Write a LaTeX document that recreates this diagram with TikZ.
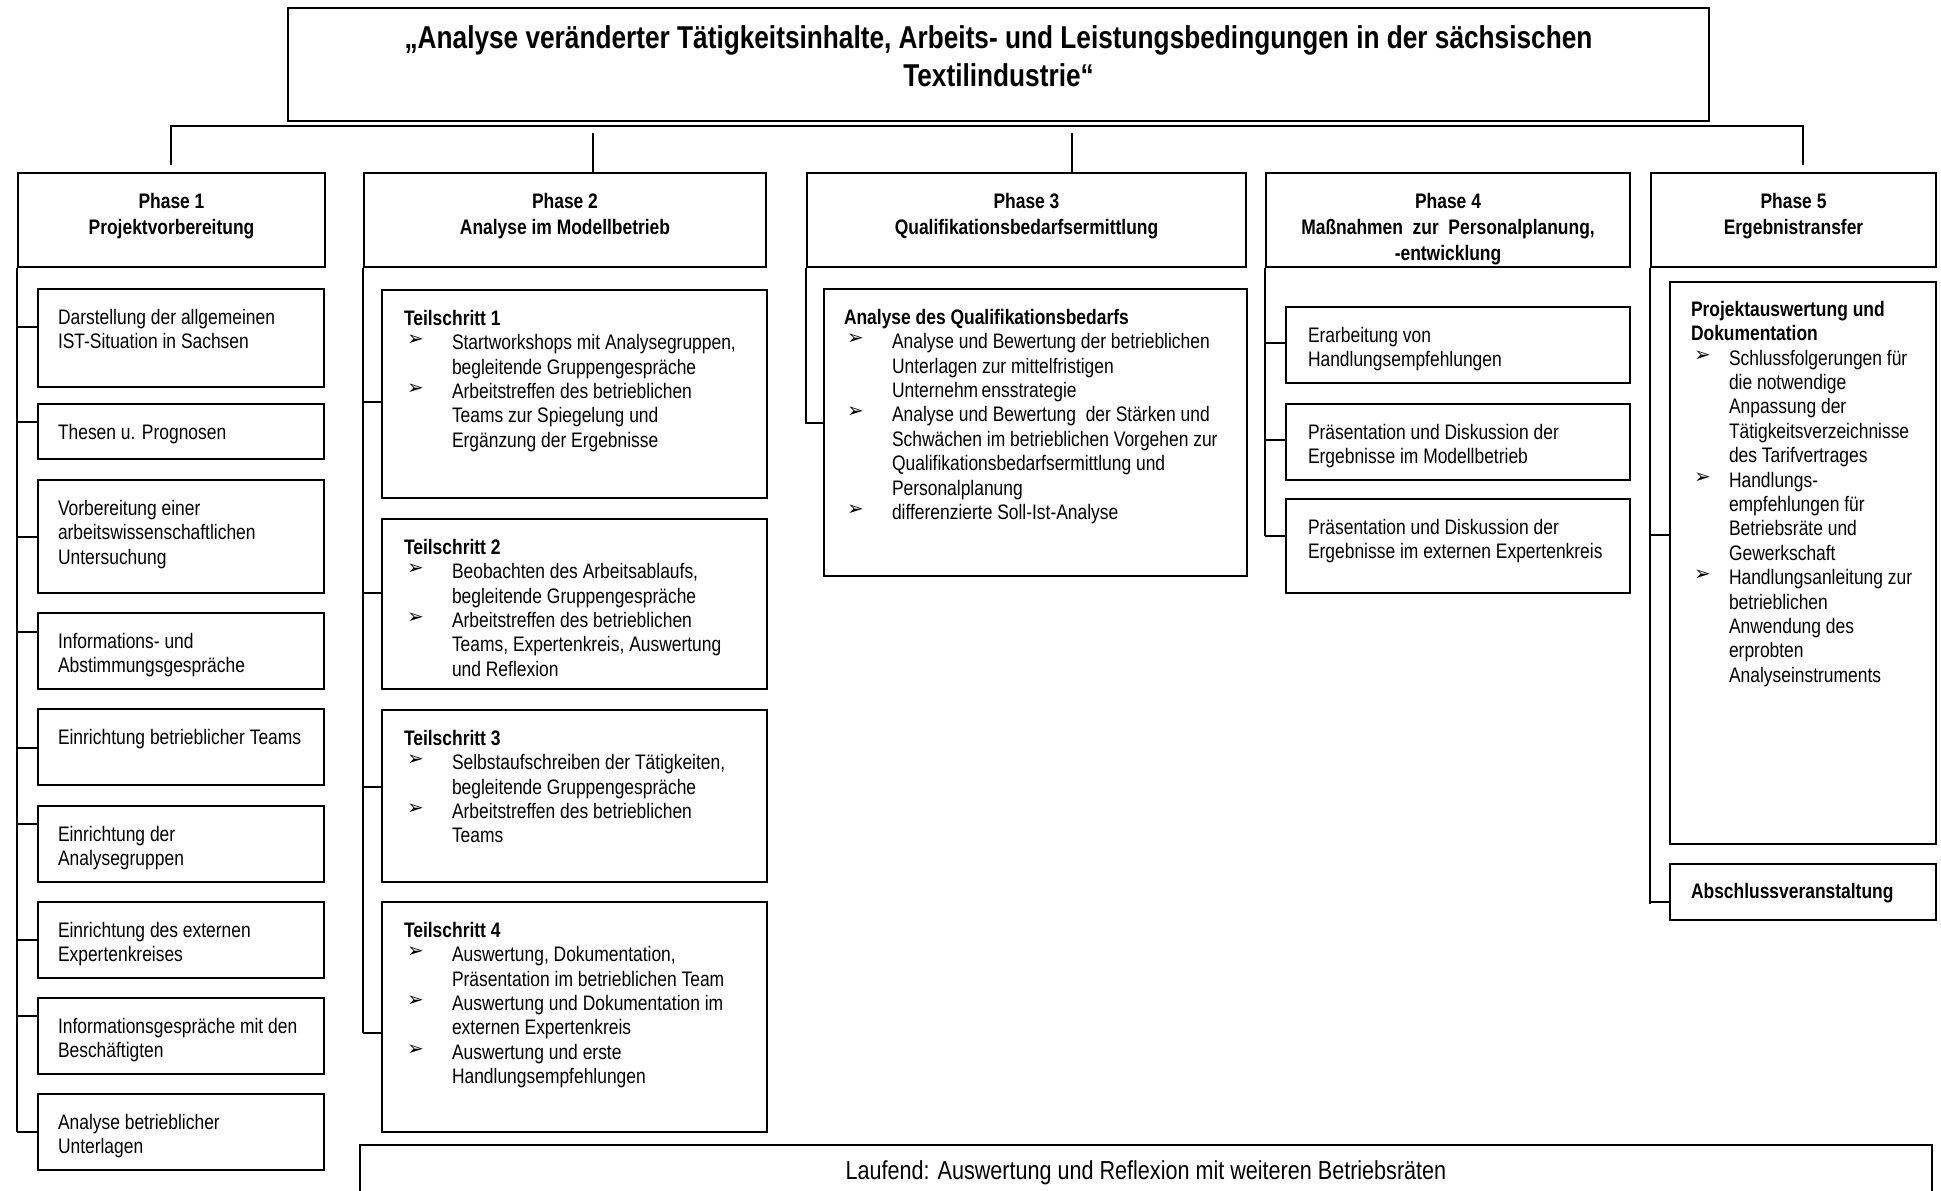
\documentclass[tikz,border=0pt]{standalone}
\usepackage{fontspec}
\setmainfont{Liberation Sans}[FakeStretch=0.83]
\newfontfamily\dingfont{DejaVu Sans}
\usetikzlibrary{positioning}

\tikzset{every picture/.style={line width=1pt}}

% bullet and hanging indent for the item lists
\newcommand\bul[1][24pt]{\makebox[#1][l]{\hspace{1.5pt}\raisebox{2pt}{\dingfont\fontsize{10}{10}\selectfont ➢}}}
\newcommand\ind[1][24pt]{\hspace*{#1}}

\begin{document}
\begin{tikzpicture}[x=0.5pt,y=-0.5pt,
    box/.style={draw, inner sep=0pt, anchor=north west},
    phase/.style={font=\bfseries\fontsize{10.5}{13}\selectfont, align=center, inner sep=0pt},
    body/.style={font=\fontsize{10.5}{12.2}\selectfont, align=left, inner sep=0pt}]
    \useasboundingbox (0,0) rectangle (1941,1190);
    \clip (0,0) rectangle (1941,1190);

    %Shape: Rectangle [title]
    \node[box, minimum width=710.5pt, minimum height=56.5pt] (title) at (287,7) {};
    % Text Node
    \node[font=\bfseries\fontsize{15.8}{19}\selectfont, align=center, inner sep=0pt] (titlet) at ([yshift=4pt]title.center) {„Analyse veränderter Tätigkeitsinhalte, Arbeits- und Leistungsbedingungen in der sächsischen\\Textilindustrie“};

    %Shape: Rectangle [phase boxes]
    \node[box, minimum width=153.5pt, minimum height=47pt] (ph1) at (17,172) {};
    \node[box, minimum width=201pt, minimum height=47pt] (ph2) at (363,172) {};
    \node[box, minimum width=219.5pt, minimum height=47pt] (ph3) at (806,172) {};
    \node[box, minimum width=182pt, minimum height=47pt] (ph4) at (1265,172) {};
    \node[box, minimum width=142.5pt, minimum height=47pt] (ph5) at (1650,172) {};
    % Text Node
    \node[phase, below=10pt of ph1.north] (ph1t) {Phase 1\\Projektvorbereitung};
    \node[phase, below=10pt of ph2.north] (ph2t) {Phase 2\\Analyse im Modellbetrieb};
    \node[phase, below=10pt of ph3.north] (ph3t) {Phase 3\\Qualifikationsbedarfsermittlung};
    \node[phase, below=10pt of ph4.north] (ph4t) {Phase 4\\Maßnahmen\ \ zur\ \ Personalplanung,\\-entwicklung};
    \node[phase, below=10pt of ph5.north] (ph5t) {Phase 5\\Ergebnistransfer};

    %Straight Lines [bus]
    \coordinate (busL) at (171,126);
    \coordinate (busR) at (1803,126);
    \coordinate (dropL) at (171,165);
    \coordinate (dropR) at (1803,165);
    \coordinate (drop2) at (593,133);
    \coordinate (drop3) at (1072,133);
    \draw (dropL) -- (busL) -- (busR) -- (dropR);
    \draw (drop2) -- (drop2 |- ph2.north);
    \draw (drop3) -- (drop3 |- ph3.north);

    % Phase 1
    \node[box, minimum width=143pt, minimum height=49pt] (a1) at (37,288) {};
    \node[box, minimum width=143pt, minimum height=27.5pt] (a2) at (37,403) {};
    \node[box, minimum width=143pt, minimum height=56.5pt] (a3) at (37,479) {};
    \node[box, minimum width=143pt, minimum height=38pt] (a4) at (37,612) {};
    \node[box, minimum width=143pt, minimum height=38pt] (a5) at (37,708) {};
    \node[box, minimum width=143pt, minimum height=38pt] (a6) at (37,805) {};
    \node[box, minimum width=143pt, minimum height=38pt] (a7) at (37,901) {};
    \node[box, minimum width=143pt, minimum height=38pt] (a8) at (37,997) {};
    \node[box, minimum width=143pt, minimum height=38pt] (a9) at (37,1093) {};
    \node[body, below right=10pt and 10pt of a1.north west] (a1t) {Darstellung der allgemeinen\\IST-Situation in Sachsen};
    \node[body, below right=10pt and 10pt of a2.north west] (a2t) {Thesen u. Prognosen};
    \node[body, below right=10pt and 10pt of a3.north west] (a3t) {Vorbereitung einer\\arbeitswissenschaftlichen\\Untersuchung};
    \node[body, below right=10pt and 10pt of a4.north west] (a4t) {Informations- und\\Abstimmungsgespräche};
    \node[body, below right=10pt and 10pt of a5.north west] (a5t) {Einrichtung betrieblicher Teams};
    \node[body, below right=10pt and 10pt of a6.north west] (a6t) {Einrichtung der\\Analysegruppen};
    \node[body, below right=10pt and 10pt of a7.north west] (a7t) {Einrichtung des externen\\Expertenkreises};
    \node[body, below right=10pt and 10pt of a8.north west] (a8t) {Informationsgespräche mit den\\Beschäftigten};
    \node[body, below right=10pt and 10pt of a9.north west] (a9t) {Analyse betrieblicher\\Unterlagen};
    \draw (ph1.south west) -- (ph1.south west |- 0,1132);
    \draw (ph1.south west |- 0,327) -- (a1.west |- 0,327);
    \draw (ph1.south west |- 0,422) -- (a2.west |- 0,422);
    \draw (ph1.south west |- 0,537) -- (a3.west |- 0,537);
    \draw (ph1.south west |- 0,632) -- (a4.west |- 0,632);
    \draw (ph1.south west |- 0,748) -- (a5.west |- 0,748);
    \draw (ph1.south west |- 0,824) -- (a6.west |- 0,824);
    \draw (ph1.south west |- 0,940) -- (a7.west |- 0,940);
    \draw (ph1.south west |- 0,1016) -- (a8.west |- 0,1016);
    \draw (ph1.south west |- 0,1132) -- (a9.west |- 0,1132);

    % Phase 2
    \node[box, minimum width=192.5pt, minimum height=104pt] (b1) at (381,289) {};
    \node[box, minimum width=192.5pt, minimum height=85pt] (b2) at (381,518) {};
    \node[box, minimum width=192.5pt, minimum height=86pt] (b3) at (381,709) {};
    \node[box, minimum width=192.5pt, minimum height=115pt] (b4) at (381,901) {};
    \node[body, below right=10pt and 11pt of b1.north west] (b1t) {\textbf{Teilschritt 1}\\
        \bul Startworkshops mit Analysegruppen,\\ \ind begleitende Gruppengespräche\\
        \bul Arbeitstreffen des betrieblichen\\ \ind Teams zur Spiegelung und\\ \ind Ergänzung der Ergebnisse};
    \node[body, below right=10pt and 11pt of b2.north west] (b2t) {\textbf{Teilschritt 2}\\
        \bul Beobachten des Arbeitsablaufs,\\ \ind begleitende Gruppengespräche\\
        \bul Arbeitstreffen des betrieblichen\\ \ind Teams, Expertenkreis, Auswertung\\ \ind und Reflexion};
    \node[body, below right=10pt and 11pt of b3.north west] (b3t) {\textbf{Teilschritt 3}\\
        \bul Selbstaufschreiben der Tätigkeiten,\\ \ind begleitende Gruppengespräche\\
        \bul Arbeitstreffen des betrieblichen\\ \ind Teams};
    \node[body, below right=10pt and 11pt of b4.north west] (b4t) {\textbf{Teilschritt 4}\\
        \bul Auswertung, Dokumentation,\\ \ind Präsentation im betrieblichen Team\\
        \bul Auswertung und Dokumentation im\\ \ind externen Expertenkreis\\
        \bul Auswertung und erste\\ \ind Handlungsempfehlungen};
    \draw (ph2.south west) -- (ph2.south west |- 0,1033);
    \draw (ph2.south west |- 0,402) -- (b1.west |- 0,402);
    \draw (ph2.south west |- 0,593) -- (b2.west |- 0,593);
    \draw (ph2.south west |- 0,787) -- (b3.west |- 0,787);
    \draw (ph2.south west |- 0,1033) -- (b4.west |- 0,1033);

    % Phase 3
    \node[box, minimum width=211.5pt, minimum height=143.5pt] (q1) at (823,288) {};
    \node[body, below right=10pt and 10pt of q1.north west] (q1t) {\textbf{Analyse des Qualifikationsbedarfs}\\
        \bul Analyse und Bewertung der betrieblichen\\ \ind Unterlagen zur mittelfristigen\\ \ind Unternehm\,ensstrategie\\
        \bul Analyse und Bewertung\ \ der Stärken und\\ \ind Schwächen im betrieblichen Vorgehen zur\\ \ind Qualifikationsbedarfsermittlung und\\ \ind Personalplanung\\
        \bul differenzierte Soll-Ist-Analyse};
    \draw (ph3.south west) |- (q1.west |- 0,423);

    % Phase 4
    \node[box, minimum width=172pt, minimum height=38pt] (c1) at (1285,306) {};
    \node[box, minimum width=172pt, minimum height=38pt] (c2) at (1285,403) {};
    \node[box, minimum width=172pt, minimum height=47pt] (c3) at (1285,498) {};
    \node[body, below right=10pt and 11pt of c1.north west] (c1t) {Erarbeitung von\\Handlungsempfehlungen};
    \node[body, below right=10pt and 11pt of c2.north west] (c2t) {Präsentation und Diskussion der\\Ergebnisse im Modellbetrieb};
    \node[body, below right=10pt and 11pt of c3.north west] (c3t) {Präsentation und Diskussion der\\Ergebnisse im externen Expertenkreis};
    \draw (ph4.south west) -- (ph4.south west |- 0,536);
    \draw (ph4.south west |- 0,343) -- (c1.west |- 0,343);
    \draw (ph4.south west |- 0,440) -- (c2.west |- 0,440);
    \draw (ph4.south west |- 0,536) -- (c3.west |- 0,536);

    % Phase 5
    \node[box, minimum width=133pt, minimum height=281pt] (d1) at (1669,281) {};
    \node[box, minimum width=133pt, minimum height=28pt] (d2) at (1669,863) {};
    \node[body, below right=9.5pt and 10.5pt of d1.north west] (d1t) {\textbf{Projektauswertung und}\\ \textbf{Dokumentation}\\
        \bul[19pt]Schlussfolgerungen für\\ \ind[19pt]die notwendige\\ \ind[19pt]Anpassung der\\ \ind[19pt]Tätigkeitsverzeichnisse\\ \ind[19pt]des Tarifvertrages\\
        \bul[19pt]Handlungs-\\ \ind[19pt]empfehlungen für\\ \ind[19pt]Betriebsräte und\\ \ind[19pt]Gewerkschaft\\
        \bul[19pt]Handlungsanleitung zur\\ \ind[19pt]betrieblichen\\ \ind[19pt]Anwendung des\\ \ind[19pt]erprobten\\ \ind[19pt]Analyseinstruments};
    \node[body, below right=9.5pt and 10.5pt of d2.north west] (d2t) {\textbf{Abschlussveranstaltung}};
    \draw (ph5.south west) -- (ph5.south west |- 0,904);
    \draw (ph5.south west |- 0,535) -- (d1.west |- 0,535);
    \draw (ph5.south west |- 0,902) -- (d2.west |- 0,902);

    % Laufend
    \node[box, minimum width=786pt, minimum height=30pt] (lauf) at (359,1144) {};
    \node[font=\fontsize{13}{15}\selectfont, inner sep=0pt] (lauft) at ([yshift=-14.5pt]lauf.north) {Laufend: Auswertung und Reflexion mit weiteren Betriebsräten};
\end{tikzpicture}
\end{document}
